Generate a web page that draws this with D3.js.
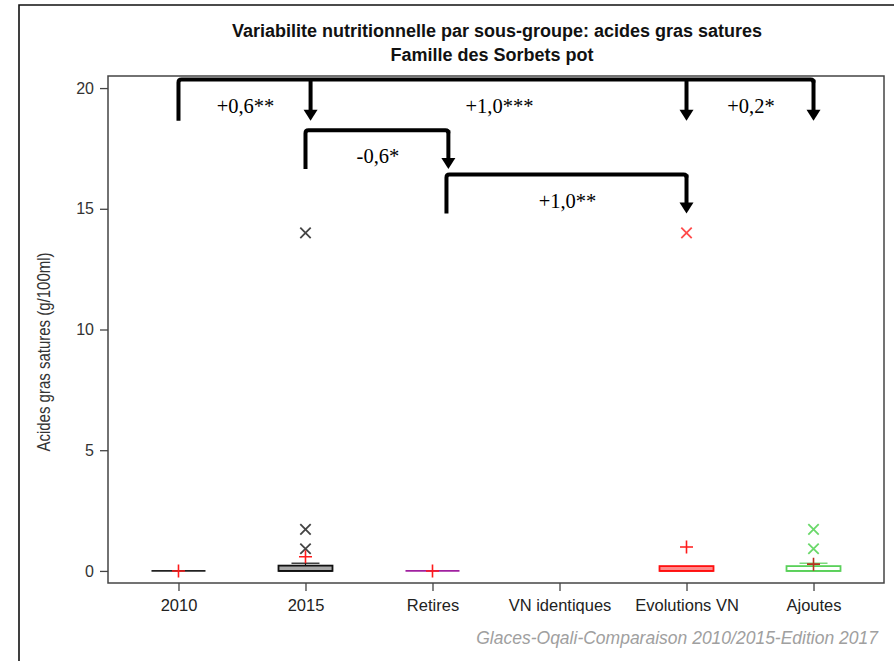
<!DOCTYPE html>
<html>
<head>
<meta charset="utf-8">
<script src="https://cdn.jsdelivr.net/npm/d3@7"></script>
<style>
  html, body { margin: 0; padding: 0; background: #fff; }
  svg { display: block; }
</style>
</head>
<body>
<svg id="chart" width="894" height="661"></svg>
<script>
// Sub-groups of the "Sorbets pot" family
const categories = ["2010", "2015", "Retires", "VN identiques", "Evolutions VN", "Ajoutes"];

// Box statistics per sub-group (g/100ml); null = no products
const q1Values      = [0, 0,    0, null, 0,    0];
const medianValues  = [0, 0,    0, null, 0,    0];
const q3Values      = [0, 0.22, 0, null, 0.2,  0.2];
const whiskerHigh   = [0, 0.32, 0, null, 0.2,  0.32];
const meanValues    = [0, 0.59, 0, null, 0.99, 0.28];
const outlierValues = [[], [0.92, 1.72, 14.0], [], [], [14.0], [0.92, 1.72]];

// Axis ticks
const yTicks = [0, 5, 10, 15, 20];

// Significance brackets, anchored on (fractional) category indices
const bracketFrom    = [0, 1, 2.11];
const bracketTargets = [[1.04, 4, 5], [2.125], [4]];
const bracketLabels  = [["+0,6**", "+1,0***", "+0,2*"], ["-0,6*"], ["+1,0**"]];
const bracketTop     = [20.35, 18.25, 16.42];
const bracketFoot    = [18.65, 16.65, 14.8];

const titleLines = ["Variabilite nutritionnelle par sous-groupe: acides gras satures",
                    "Famille des Sorbets pot"];
const yLabel = "Acides gras satures (g/100ml)";
const footer = "Glaces-Oqali-Comparaison 2010/2015-Edition 2017";

// Per-group styling
const boxStroke  = ["#222", "#111", "#a020a0", "#000", "#ff1010", "#5ad05a"];
const boxFill    = ["none", "#a8a8a8", "none", "none", "#ff8a8a", "#ffffff"];
const outlierCol = ["#444", "#444", "#444", "#444", "#ff4a4a", "#6ad86a"];
const meanCol    = ["#ff1a1a", "#ff1a1a", "#ff1a1a", "#ff1a1a", "#ff1a1a", "#b83020"];

const sans = "Liberation Sans, Arial, sans-serif";
const svg = d3.select("#chart");
const plot = { left: 108, right: 884, top: 76, bottom: 583 };

const x = d3.scalePoint().domain(categories).range([plot.left, plot.right]).padding(0.555);
const xi = d3.scaleLinear().domain([0, categories.length - 1])
  .range([x(categories[0]), x(categories[categories.length - 1])]);
const y = d3.scaleLinear().domain([-0.5, 20.5]).range([plot.bottom, plot.top]);

// Outer frame (left and top edges)
svg.append("path")
  .attr("d", `M19,661 V5 H894`)
  .attr("fill", "none").attr("stroke", "#111").attr("stroke-width", 1.6);

// Titles
svg.append("text").attr("x", 497).attr("y", 37).attr("text-anchor", "middle")
  .attr("font-family", sans).attr("font-weight", "bold")
  .attr("font-size", 18).attr("fill", "#111").text(titleLines[0]);
svg.append("text").attr("x", 492).attr("y", 61).attr("text-anchor", "middle")
  .attr("font-family", sans).attr("font-weight", "bold")
  .attr("font-size", 18).attr("fill", "#111").text(titleLines[1]);

// Plot frame
svg.append("rect")
  .attr("x", plot.left).attr("y", plot.top)
  .attr("width", plot.right - plot.left).attr("height", plot.bottom - plot.top)
  .attr("fill", "none").attr("stroke", "#444").attr("stroke-width", 1.5);

// Y axis
const yAxis = svg.append("g").attr("transform", `translate(${plot.left},0)`)
  .call(d3.axisLeft(y).tickValues(yTicks).tickSize(8).tickPadding(6).tickFormat(d3.format("d")));
yAxis.select(".domain").remove();
yAxis.selectAll("line").attr("stroke", "#444").attr("stroke-width", 1.3);
yAxis.selectAll("text").attr("font-family", sans)
  .attr("font-size", 16).attr("fill", "#333");

// X axis
const xAxis = svg.append("g").attr("transform", `translate(0,${plot.bottom})`)
  .call(d3.axisBottom(x).tickSize(8).tickPadding(8));
xAxis.select(".domain").remove();
xAxis.selectAll("line").attr("stroke", "#444").attr("stroke-width", 1.3);
xAxis.selectAll("text").attr("font-family", sans)
  .attr("font-size", 16.5).attr("fill", "#222");

// Y axis title (slightly widened glyphs)
svg.append("text")
  .attr("transform", `translate(50,352) scale(1.22,1) rotate(-90)`)
  .attr("text-anchor", "middle")
  .attr("font-family", sans)
  .attr("font-size", 15).attr("fill", "#333").text(yLabel);

// Box plots
const boxW = 54, capW = 28;
const groups = categories.map((c, i) => ({ c, i })).filter(d => q1Values[d.i] !== null);
const g = svg.append("g");

groups.forEach(({ c, i }) => {
  const cx = x(c);
  // upper whisker
  if (whiskerHigh[i] > q3Values[i]) {
    g.append("line").attr("x1", cx).attr("x2", cx)
      .attr("y1", y(q3Values[i])).attr("y2", y(whiskerHigh[i]))
      .attr("stroke", boxStroke[i]).attr("stroke-width", 1.2);
    g.append("line").attr("x1", cx - capW / 2).attr("x2", cx + capW / 2)
      .attr("y1", y(whiskerHigh[i])).attr("y2", y(whiskerHigh[i]))
      .attr("stroke", boxStroke[i]).attr("stroke-width", 1.2);
  }
  // box
  g.append("rect")
    .attr("x", cx - boxW / 2).attr("width", boxW)
    .attr("y", y(q3Values[i])).attr("height", y(q1Values[i]) - y(q3Values[i]))
    .attr("fill", boxFill[i]).attr("stroke", boxStroke[i]).attr("stroke-width", 1.8);
  // median
  g.append("line").attr("x1", cx - boxW / 2).attr("x2", cx + boxW / 2)
    .attr("y1", y(medianValues[i])).attr("y2", y(medianValues[i]))
    .attr("stroke", boxStroke[i]).attr("stroke-width", 1.8);
  // outliers
  outlierValues[i].forEach(v => {
    const oy = y(v), s = 5.2;
    g.append("path")
      .attr("d", `M${cx - s},${oy - s}L${cx + s},${oy + s}M${cx - s},${oy + s}L${cx + s},${oy - s}`)
      .attr("stroke", outlierCol[i]).attr("stroke-width", 1.8).attr("fill", "none");
  });
  // mean
  const my = y(meanValues[i]), m = 6.5;
  g.append("path")
    .attr("d", `M${cx - m},${my}H${cx + m}M${cx},${my - m}V${my + m}`)
    .attr("stroke", meanCol[i]).attr("stroke-width", 1.6).attr("fill", "none");
});

// Significance brackets
const br = svg.append("g");
bracketFrom.forEach((from, k) => {
  const targets = bracketTargets[k];
  const x0 = xi(from);
  const xEnd = xi(targets[targets.length - 1]);
  const yt = y(bracketTop[k]), yf = y(bracketFoot[k]);
  const r = 3;
  br.append("path")
    .attr("d", `M${x0},${yf} V${yt + r} Q${x0},${yt} ${x0 + r},${yt} H${xEnd - r} Q${xEnd},${yt} ${xEnd},${yt + r}`)
    .attr("fill", "none").attr("stroke", "#000").attr("stroke-width", 4)
    .attr("stroke-linejoin", "round");
  let prev = x0;
  targets.forEach((t, j) => {
    const tx = xi(t);
    br.append("line").attr("x1", tx).attr("x2", tx)
      .attr("y1", yt).attr("y2", yf - 9)
      .attr("stroke", "#000").attr("stroke-width", 4);
    br.append("path")
      .attr("d", `M${tx - 7},${yf - 11} L${tx + 7},${yf - 11} L${tx},${yf} Z`)
      .attr("fill", "#000");
    br.append("text")
      .attr("x", (prev + tx) / 2 + 1).attr("y", yt + 33)
      .attr("text-anchor", "middle")
      .attr("font-family", "Liberation Serif, 'DejaVu Serif', serif")
      .attr("font-size", 20.5).attr("fill", "#000")
      .text(bracketLabels[k][j]);
    prev = tx;
  });
});

// Footer
svg.append("text").attr("x", 878).attr("y", 644).attr("text-anchor", "end")
  .attr("font-family", sans).attr("font-style", "italic")
  .attr("font-size", 17.5).attr("fill", "#a0a0a0").text(footer);
</script>
</body>
</html>
